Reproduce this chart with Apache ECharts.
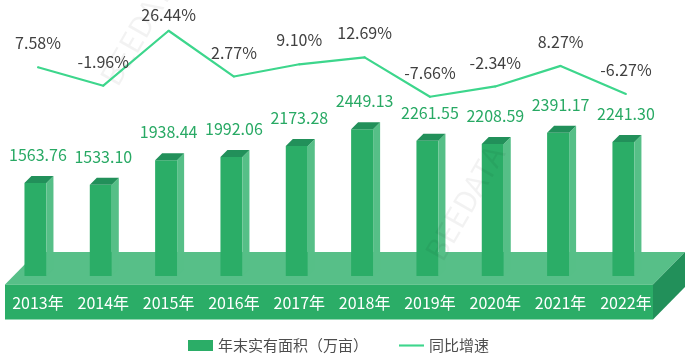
<!DOCTYPE html>
<html lang="zh-CN">
<head>
    <meta charset="UTF-8">
    <title>年末实有面积与同比增速</title>
    <script src="https://cdn.jsdelivr.net/npm/echarts@6/dist/echarts.min.js"></script>
    <style>
        html, body { margin: 0; padding: 0; background: #fff; }
        #chart { width: 688px; height: 354px; }
    </style>
</head>
<body>
    <div id="chart"></div>
    <script>
        // 数据
        const years = ['2013年', '2014年', '2015年', '2016年', '2017年', '2018年', '2019年', '2020年', '2021年', '2022年'];
        const areaValues = [1563.76, 1533.10, 1938.44, 1992.06, 2173.28, 2449.13, 2261.55, 2208.59, 2391.17, 2241.30];
        const growthRates = [7.58, -1.96, 26.44, 2.77, 9.10, 12.69, -7.66, -2.34, 8.27, -6.27];

        // 颜色
        const FRONT = '#2bad67';
        const SIDE = '#56bf87';
        const TOP = '#22905a';
        const LINE = '#3dd68c';
        const FONT = '"Noto Sans CJK SC", "Noto Sans", sans-serif';

        // 立体柱子
        function renderBar(params, api) {
            const c = api.coord([api.value(0), api.value(1)]);
            const base = api.coord([api.value(0), 0]);
            const x0 = c[0] - 13.5, x1 = c[0] + 8.5, d = 7;
            const top = c[1], bot = base[1] - 1.5;
            return {
                type: 'group',
                children: [
                    { type: 'polygon', shape: { points: [[x0, top], [x1, top], [x1, bot], [x0, bot]] }, style: { fill: FRONT } },
                    { type: 'polygon', shape: { points: [[x1, top], [x1 + d, top - d], [x1 + d, bot - d], [x1, bot]] }, style: { fill: SIDE } },
                    { type: 'polygon', shape: { points: [[x0, top], [x0 + d, top - d], [x1 + d, top - d], [x1, top]] }, style: { fill: TOP } },
                    {
                        type: 'text', x: c[0], y: top - 28,
                        style: {
                            text: api.value(1).toFixed(2), fill: '#28a964', font: '16px ' + FONT,
                            align: 'center', verticalAlign: 'middle'
                        }
                    }
                ]
            };
        }

        const chart = echarts.init(document.getElementById('chart'));
        chart.setOption({
            backgroundColor: '#fff',
            textStyle: { fontFamily: FONT },
            grid: [
                { left: 5.3, right: 29.4, top: 96, bottom: 76.5 },
                { left: 5.3, right: 29.4, top: 23.85, bottom: 252.75 }
            ],
            legend: {
                left: 183, top: 333,
                itemWidth: 25, itemHeight: 11, itemGap: 31,
                textStyle: { fontSize: 15, color: '#4d4d4d', fontFamily: FONT },
                data: [
                    { name: '年末实有面积（万亩）', icon: 'rect' },
                    { name: '同比增速', icon: 'path://M0,0 L26,0 L26,2.2 L0,2.2 Z' }
                ]
            },
            graphic: [
                // 底座
                { type: 'polygon', z: -10, shape: { points: [[5, 284.5], [653, 284.5], [685, 252], [37, 252]] }, style: { fill: '#57bf88' } },
                { type: 'rect', z: -10, shape: { x: 5, y: 284.5, width: 648, height: 35 }, style: { fill: FRONT } },
                { type: 'polygon', z: -10, shape: { points: [[653, 284.5], [685, 252], [685, 287], [653, 319.5]] }, style: { fill: '#22905a' } },
                // 水印
                { type: 'text', z: -20, x: 95, y: 75, rotation: Math.PI / 3, style: { text: 'BEEDATA', fill: 'rgba(0,0,0,0.05)', font: '30px ' + FONT } },
                { type: 'text', z: 50, x: 420, y: 250, rotation: Math.PI / 3, style: { text: 'BEEDATA', fill: 'rgba(0,0,0,0.05)', font: '30px ' + FONT } }
            ],
            xAxis: [
                {
                    type: 'category', gridIndex: 0, data: years,
                    axisLine: { show: false }, axisTick: { show: false }, splitLine: { show: false },
                    axisLabel: { color: '#fff', fontSize: 16, margin: 17.5, interval: 0, fontFamily: FONT }
                },
                {
                    type: 'category', gridIndex: 1, data: years, show: false
                }
            ],
            yAxis: [
                { type: 'value', gridIndex: 0, min: 0, max: 3000, show: false },
                { type: 'value', gridIndex: 1, min: -10, max: 30, show: false }
            ],
            series: [
                {
                    name: '年末实有面积（万亩）',
                    type: 'custom',
                    xAxisIndex: 0, yAxisIndex: 0,
                    itemStyle: { color: FRONT },
                    renderItem: renderBar,
                    encode: { x: 0, y: 1 },
                    data: areaValues.map((v, i) => [i, v])
                },
                {
                    name: '同比增速',
                    type: 'line',
                    xAxisIndex: 1, yAxisIndex: 1,
                    symbol: 'circle', symbolSize: 2,
                    itemStyle: { color: LINE },
                    lineStyle: { color: LINE, width: 2.2 },
                    label: {
                        show: true, position: 'top', distance: 15,
                        color: '#404040', fontSize: 16, fontFamily: FONT,
                        formatter: p => p.value.toFixed(2) + '%'
                    },
                    data: growthRates.map((v, i) => i === 2 ? { value: v, label: { distance: 7 } } : v)
                }
            ]
        });
    </script>
</body>
</html>
